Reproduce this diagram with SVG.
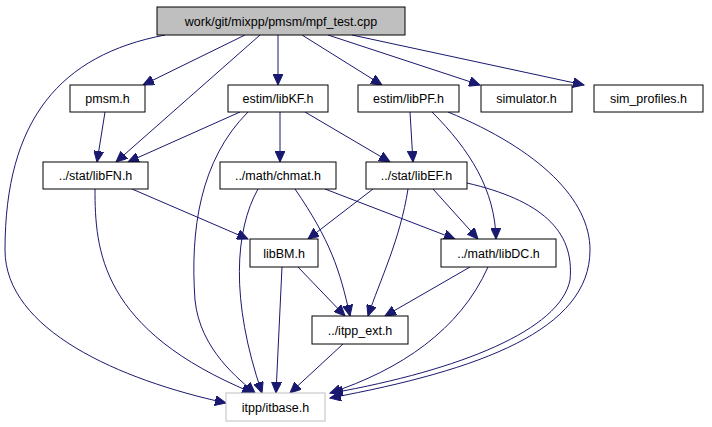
<svg xmlns="http://www.w3.org/2000/svg" width="712" height="427" viewBox="0 0 712 427">
<style>
.n rect{fill:#fff;stroke:#000;stroke-width:1}
.n text{font-family:"Liberation Sans",Arial,sans-serif;font-size:12.5px;text-anchor:middle;fill:#000}
#edges path{fill:none;stroke:#191970;stroke-width:1;marker-end:url(#a)}
</style>
<defs><marker id="a" markerUnits="userSpaceOnUse" markerWidth="12" markerHeight="10" refX="11" refY="5" orient="auto"><path d="M0,0 L11,5 L0,10 z" fill="#191970" stroke="#191970"/></marker></defs>
<rect width="712" height="427" fill="#fff"/>
<g id="edges">
<path d="M165,35 C60,55 5,120 5,250 C5,330 120,380 226,403"/>
<path d="M245,35 L143,85"/>
<path d="M260,35 L116,162"/>
<path d="M278,35 L278,85"/>
<path d="M302,35 L382,85"/>
<path d="M328,35 L480,85"/>
<path d="M352,35 L584,85"/>
<path d="M105,112 L97,162"/>
<path d="M240,112 L128,162"/>
<path d="M248,112 C200,160 190,230 195,300 C200,350 240,380 255,393"/>
<path d="M280,112 L280,162"/>
<path d="M305,112 L390,162"/>
<path d="M410,112 L413,162"/>
<path d="M432,112 C470,150 495,190 496,239"/>
<path d="M448,112 C540,150 590,200 590,250 C590,330 480,370 330,398"/>
<path d="M95,189 C95,250 100,330 253,393"/>
<path d="M132,189 L248,239"/>
<path d="M258,189 C235,230 230,300 262,393"/>
<path d="M295,189 C330,240 340,270 350,316"/>
<path d="M325,189 L455,239"/>
<path d="M373,189 L308,239"/>
<path d="M408,189 C400,240 380,280 368,316"/>
<path d="M433,189 L478,239"/>
<path d="M467,183 C540,200 575,230 570,280 C560,330 460,370 332,393"/>
<path d="M282,267 L276,393"/>
<path d="M298,267 L345,316"/>
<path d="M470,267 L385,316"/>
<path d="M488,267 C460,330 400,370 330,393"/>
<path d="M343,344 L290,393"/>
</g>
<g id="mpf_test" class="n"><rect x="157" y="7" width="248" height="28" style="fill:#bfbfbf"/><text x="281" y="25.5">work/git/mixpp/pmsm/mpf_test.cpp</text></g>
<g id="pmsm" class="n"><rect x="70" y="85" width="75" height="27"/><text x="107.5" y="103">pmsm.h</text></g>
<g id="libKF" class="n"><rect x="228" y="85" width="100" height="27"/><text x="278" y="103">estim/libKF.h</text></g>
<g id="libPF" class="n"><rect x="358" y="85" width="101" height="27"/><text x="408.5" y="103">estim/libPF.h</text></g>
<g id="simulator" class="n"><rect x="481" y="85" width="91" height="27"/><text x="526.5" y="103">simulator.h</text></g>
<g id="sim_profiles" class="n"><rect x="594" y="85" width="109" height="27"/><text x="648.5" y="103">sim_profiles.h</text></g>
<g id="libFN" class="n"><rect x="43" y="162" width="105" height="27"/><text x="95.5" y="180">../stat/libFN.h</text></g>
<g id="chmat" class="n"><rect x="220" y="162" width="116" height="27"/><text x="278" y="180">../math/chmat.h</text></g>
<g id="libEF" class="n"><rect x="366" y="162" width="101" height="27"/><text x="416.5" y="180">../stat/libEF.h</text></g>
<g id="libBM" class="n"><rect x="250" y="239" width="68" height="28"/><text x="284" y="257.5">libBM.h</text></g>
<g id="libDC" class="n"><rect x="441" y="239" width="115" height="28"/><text x="498.5" y="257.5">../math/libDC.h</text></g>
<g id="itpp_ext" class="n"><rect x="312" y="316" width="96" height="28"/><text x="360" y="334.5">../itpp_ext.h</text></g>
<g id="itbase" class="n"><rect x="226" y="393" width="99" height="28" style="stroke:#bfbfbf"/><text x="275.5" y="411.5">itpp/itbase.h</text></g>
</svg>
